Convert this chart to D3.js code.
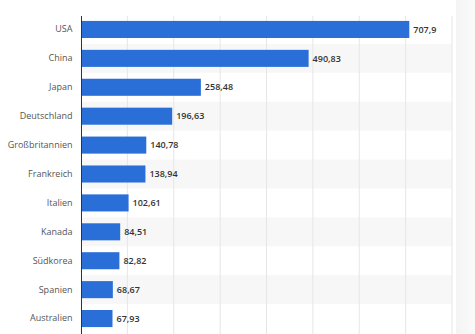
<!DOCTYPE html>
<html><head><meta charset="utf-8">
<script src="https://cdn.jsdelivr.net/npm/d3@7"></script>
<style>body{margin:0;background:#fff;}svg{display:block;font-family:"Open Sans",sans-serif;}</style>
</head><body>
<svg id="c" width="475" height="334"></svg>
<script>
const categories = ["USA","China","Japan","Deutschland","Großbritannien","Frankreich","Italien","Kanada","Südkorea","Spanien","Australien"];
const values = [707.9,490.83,258.48,196.63,140.78,138.94,102.61,84.51,82.82,68.67,67.93];
const valueLabels = ["707,9","490,83","258,48","196,63","140,78","138,94","102,61","84,51","82,82","68,67","67,93"];
const xTicks = [0,100,200,300,400,500,600,700,800];

const svg = d3.select("#c");
const x = d3.scaleLinear().domain([0,800]).range([81,452]);
const y = d3.scaleBand().domain(categories).range([15,333]).paddingInner(0.41).paddingOuter(0.205);

// right panel shadow
const defs = svg.append("defs");
const g = defs.append("linearGradient").attr("id","sh").attr("x1","0").attr("x2","1");
g.append("stop").attr("offset","0").attr("stop-color","#f4f4f4");
g.append("stop").attr("offset","1").attr("stop-color","#fafafa");
svg.append("rect").attr("x",456).attr("y",0).attr("width",19).attr("height",334).attr("fill","url(#sh)");

// alternating bands
svg.append("g").selectAll("rect").data(categories).join("rect")
  .attr("x",81).attr("width",371)
  .attr("y",d=>y(d)-y.step()*y.paddingInner()/2)
  .attr("height",y.step())
  .attr("fill",(d,i)=>i%2? "#f7f7f7":"none");

// gridlines
svg.append("g").selectAll("line").data(xTicks.slice(1)).join("line")
  .attr("x1",d=>x(d)).attr("x2",d=>x(d)).attr("y1",16).attr("y2",334)
  .attr("stroke","#e6e6e6").attr("stroke-width",1);

// bars
svg.append("g").selectAll("rect").data(values).join("rect")
  .attr("x",x(0)).attr("y",(d,i)=>y(categories[i]))
  .attr("width",d=>x(d)-x(0)).attr("height",y.bandwidth())
  .attr("fill","#2a6fd7");

// value labels
svg.append("g").selectAll("text").data(values).join("text")
  .attr("x",d=>x(d)+4).attr("y",(d,i)=>y(categories[i])+y.bandwidth()/2)
  .attr("dy","0.35em").attr("font-size",9).attr("font-weight",600).attr("fill","#333")
  .text((d,i)=>valueLabels[i]);

// y axis
const ya = d3.axisLeft(y).tickSize(0).tickPadding(9);
const ag = svg.append("g").attr("transform","translate(81.5,0)").call(ya);
ag.select(".domain").remove();
ag.selectAll("text").attr("font-size",9).attr("fill","#555").attr("font-family","Open Sans, sans-serif");
svg.append("line").attr("x1",81.5).attr("x2",81.5).attr("y1",16).attr("y2",334).attr("stroke","#333").attr("stroke-width",1);
</script>
</body></html>
